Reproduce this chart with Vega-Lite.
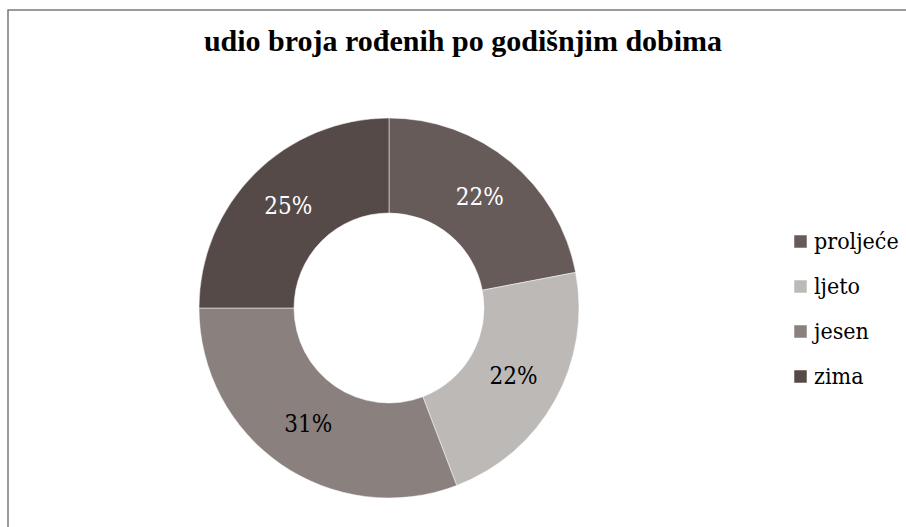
{
  "$schema": "https://vega.github.io/schema/vega-lite/v6.json",
  "autosize": {"type": "none"},
  "padding": {"left": 8, "top": 10, "right": 0, "bottom": 0},
  "width": 910,
  "height": 530,
  "background": "white",
  "config": {
    "view": {"stroke": "#7a7a7a", "strokeWidth": 1.5},
    "font": "Liberation Serif"
  },
  "title": {
    "text": "udio broja rođenih po godišnjim dobima",
    "font": "Liberation Serif",
    "fontSize": 30,
    "fontWeight": "bold",
    "color": "#000000",
    "anchor": "middle",
    "frame": "group",
    "baseline": "alphabetic",
    "offset": -71
  },
  "data": {
    "values": [
      {"i": 1, "sezona": "proljeće", "udio": 22.0, "oznaka": "22%"},
      {"i": 2, "sezona": "ljeto", "udio": 22.2, "oznaka": "22%"},
      {"i": 3, "sezona": "jesen", "udio": 30.8, "oznaka": "31%"},
      {"i": 4, "sezona": "zima", "udio": 25.0, "oznaka": "25%"}
    ]
  },
  "layer": [
    {
      "mark": {"type": "arc", "innerRadius": 95, "outerRadius": 190, "stroke": "#ffffff", "strokeWidth": 0.5},
      "encoding": {
        "x": {"value": 381},
        "y": {"value": 298},
        "theta": {"field": "udio", "type": "quantitative", "stack": true},
        "order": {"field": "i", "type": "quantitative"},
        "color": {
          "field": "sezona",
          "type": "nominal",
          "sort": ["proljeće", "ljeto", "jesen", "zima"],
          "scale": {
            "domain": ["proljeće", "ljeto", "jesen", "zima"],
            "range": ["#675b5a", "#bdb9b6", "#8a807e", "#564a48"]
          },
          "legend": {
            "title": null,
            "orient": "none",
            "legendX": 781,
            "legendY": 220,
            "symbolType": "square",
            "symbolSize": 156,
            "symbolStrokeWidth": 0,
            "labelFont": "DejaVu Serif Condensed",
            "labelFontSize": 23,
            "labelColor": "#000000",
            "labelOffset": 2,
            "rowPadding": 21,
            "labelLimit": 200
          }
        }
      }
    },
    {
      "mark": {"type": "text", "radius": 142.5, "font": "DejaVu Serif Condensed", "fontSize": 24, "align": "center", "baseline": "middle"},
      "encoding": {
        "x": {"value": 381},
        "y": {"value": 298},
        "theta": {"field": "udio", "type": "quantitative", "stack": true},
        "order": {"field": "i", "type": "quantitative"},
        "text": {"field": "oznaka", "type": "nominal"},
        "color": {
          "condition": {"test": "datum.sezona === 'proljeće' || datum.sezona === 'zima'", "value": "#ffffff"},
          "value": "#000000"
        }
      }
    }
  ]
}
